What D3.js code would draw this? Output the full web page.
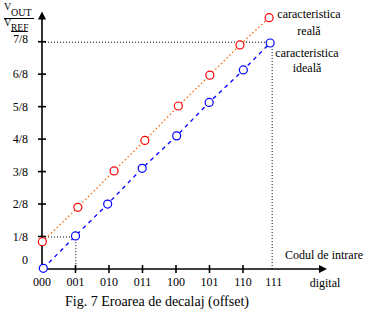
<!DOCTYPE html>
<html><head><meta charset="utf-8">
<script src="https://cdn.jsdelivr.net/npm/d3@7"></script>
<style>body{margin:0;background:#fff}svg{display:block}text{font-family:"Liberation Serif","Times New Roman",serif;fill:#000}</style>
</head><body><svg id="c" width="376" height="321"></svg>
<script>
// ---- data (codes on x in code units, values in eighths of V_REF) ----
const codes = ["000","001","010","011","100","101","110","111"];
const codeLabelPos = [0,1,2,3,4,5,6,6.92];
const yTickLabels = ["0","1/8","2/8","3/8","4/8","5/8","6/8","7/8"];
const realX = [0.01,1.07,2.15,3.07,4.07,5.01,5.91,6.78];
const realY = [0.84,1.90,3.02,3.96,5.02,5.97,6.90,7.74];
const idealX = [0.04,1.00,1.96,2.99,4.02,4.99,6.01,6.81];
const idealY = [0.02,1.02,2.00,3.10,4.10,5.13,6.13,6.96];
const guideA = {x:1.01, y:1};   // dotted guide at 1/8
const guideB = {x:6.87, y:7};   // dotted guide at 7/8

const svg = d3.select("#c");
const x = d3.scaleLinear().domain([0,7]).range([42, 42+7*33.5]);
const y = d3.scaleLinear().domain([0,7]).range([269, 269-7*32.47]);

// dotted guides
const g = svg.append("g").attr("stroke","#000").attr("stroke-width",1).attr("stroke-dasharray","1,2").attr("fill","none");
[guideA, guideB].forEach(p=>{
  g.append("path").attr("d", d3.line()([[x(0),y(p.y)+0.5],[x(p.x),y(p.y)+0.5],[x(p.x),y(0)]]));
});

// axes
const ax = svg.append("g").attr("stroke","#000").attr("stroke-width",1.6);
ax.append("line").attr("x1",x(0)).attr("x2",x(0)).attr("y1",y(0)).attr("y2",17);
ax.append("line").attr("x1",x(0)).attr("x2",321).attr("y1",y(0)).attr("y2",y(0));
svg.append("path").attr("d",`M${x(0)},11.5 L${x(0)-4},19.5 L${x(0)+4},19.5Z`).attr("fill","#000");
svg.append("path").attr("d",`M327,${y(0)} L319,${y(0)-4} L319,${y(0)+4}Z`).attr("fill","#000");

// y ticks
d3.range(1,8).forEach(i=>{
  ax.append("line").attr("x1",x(0)-4).attr("x2",x(0)+4).attr("y1",y(i)).attr("y2",y(i));
});
// x ticks
d3.range(1,7).forEach(i=>{
  ax.append("line").attr("x1",x(i)).attr("x2",x(i)).attr("y1",y(0)-4).attr("y2",y(0)+4);
});

// y tick labels
yTickLabels.forEach((t,i)=>{
  let yy = y(i)+4, fs = 12;
  if(i===0) yy = y(0)-5;
  if(i===7) { yy = y(7)+1.5; fs = 11.5; }
  svg.append("text").attr("x",28).attr("y",yy).attr("text-anchor","end").attr("font-size",fs).text(t);
});
// x tick labels
codes.forEach((c,i)=>{
  svg.append("text").attr("x",x(codeLabelPos[i])).attr("y",286).attr("text-anchor","middle").attr("font-size",12).text(c);
});

// series lines
const line = d3.line().x(d=>x(d[0])).y(d=>y(d[1]));
const realPts = realX.map((v,i)=>[v,realY[i]]);
const idealPts = idealX.map((v,i)=>[v,idealY[i]]);
svg.append("path").attr("d",line(realPts)).attr("fill","none").attr("stroke","#FF6600").attr("stroke-width",1.3).attr("stroke-dasharray","1.5,2.5");
svg.append("path").attr("d",line(idealPts)).attr("fill","none").attr("stroke","#0000FF").attr("stroke-width",1.3).attr("stroke-dasharray","4,4");

// markers
svg.selectAll("circle.r").data(realPts).join("circle").attr("class","r")
  .attr("cx",d=>x(d[0])).attr("cy",d=>y(d[1])).attr("r",4).attr("fill","#fff").attr("stroke","#FF0000").attr("stroke-width",1.2);
svg.selectAll("circle.b").data(idealPts).join("circle").attr("class","b")
  .attr("cx",d=>x(d[0])).attr("cy",d=>y(d[1])).attr("r",4).attr("fill","#fff").attr("stroke","#0000FF").attr("stroke-width",1.2);

// annotations
const ann = [["caracteristica",309,18],["reală",309,35],["caracteristica",307,57],["ideală",307,72],
             ["Codul de intrare",324,259],["digital",325,287]];
ann.forEach(a=>svg.append("text").attr("x",a[1]).attr("y",a[2]).attr("text-anchor","middle").attr("font-size",12).text(a[0]));

// y-axis title V_OUT / V_REF
svg.append("text").attr("x",4).attr("y",10).attr("font-size",10).text("V");
svg.append("text").attr("x",11).attr("y",16).attr("font-size",10).text("OUT");
svg.append("line").attr("x1",4).attr("x2",34).attr("y1",18.5).attr("y2",18.5).attr("stroke","#000").attr("stroke-width",1);
svg.append("text").attr("x",4).attr("y",26).attr("font-size",10).text("V");
svg.append("text").attr("x",11).attr("y",30.5).attr("font-size",9.5).text("REF");
svg.append("line").attr("x1",11).attr("x2",28).attr("y1",31.5).attr("y2",31.5).attr("stroke","#000").attr("stroke-width",1);

// caption
svg.append("text").attr("x",157).attr("y",306).attr("text-anchor","middle").attr("font-size",14).text("Fig. 7 Eroarea de decalaj (offset)");
</script></body></html>
